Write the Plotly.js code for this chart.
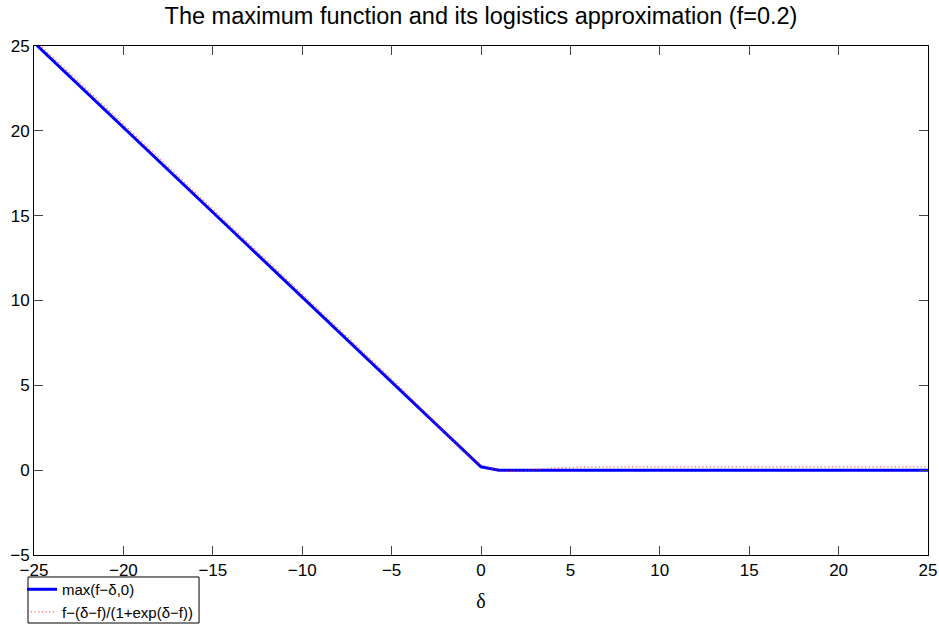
<!DOCTYPE html>
<html>
<head>
<meta charset="utf-8">
<script src="https://cdn.plot.ly/plotly-3.0.1.min.js"></script>
<style>
  html, body { margin: 0; padding: 0; background: #ffffff; }
  #chart { width: 939px; height: 624px; }
</style>
</head>
<body>
<div id="chart"></div>
<script>
// delta sample points (x axis)
const delta = [-25,-24,-23,-22,-21,-20,-19,-18,-17,-16,-15,-14,-13,-12,-11,-10,-9,-8,-7,-6,-5,-4,-3,-2,-1,
               0,1,2,3,4,5,6,7,8,9,10,11,12,13,14,15,16,17,18,19,20,21,22,23,24,25];

// max(f - delta, 0), f = 0.2
const maxValues = [25.2,24.2,23.2,22.2,21.2,20.2,19.2,18.2,17.2,16.2,15.2,14.2,13.2,12.2,11.2,10.2,9.2,8.2,7.2,6.2,5.2,4.2,3.2,2.2,1.2,
                   0.2,0,0,0,0,0,0,0,0,0,0,0,0,0,0,0,0,0,0,0,0,0,0,0,0,0];

// logistic approximation f - (delta - f)/(1 + exp(delta - f))
const logisticValues = [25.4,24.4,23.4,22.4,21.4,20.4,19.4,18.4,17.4,16.4,15.4,14.4,13.4,12.4,11.4,10.4,9.399,8.398,7.395,6.387,5.372,4.338,3.275,2.181,1.122,
                        0.31,-0.048,-0.055,0.040,0.117,0.161,0.183,0.192,0.197,0.199,0.1995,0.1998,0.1999,0.2,0.2,0.2,0.2,0.2,0.2,0.2,0.2,0.2,0.2,0.2,0.2,0.2];

const xTicks = [-25,-20,-15,-10,-5,0,5,10,15,20,25];
const yTicks = [-5,0,5,10,15,20,25];

const seriesNames = ['max(f\u2212\u03b4,0)', 'f\u2212(\u03b4\u2212f)/(1+exp(\u03b4\u2212f))'];

const traces = [
  {
    x: delta, y: maxValues, type: 'scatter', mode: 'lines',
    name: seriesNames[0],
    line: { color: 'rgb(0,0,255)', width: 3 }
  },
  {
    x: delta, y: logisticValues, type: 'scatter', mode: 'lines',
    name: seriesNames[1],
    line: { color: 'rgba(255,40,40,0.6)', width: 1.5, dash: '1.2px,2.5px' }
  }
];

const axisCommon = {
  showgrid: false, zeroline: false,
  showline: true, linecolor: '#000000', linewidth: 1, mirror: 'ticks',
  ticks: 'inside', ticklen: 9, tickwidth: 1, tickcolor: '#444444',
  tickfont: { family: 'Liberation Sans, Arial, sans-serif', size: 17, color: '#000000' },
  automargin: false
};

// legend box frame (paper coordinates)
const legendBox = { x0: -0.0067, x1: 0.1846, y0: -0.1336, y1: -0.0432 };

const layout = {
  width: 939, height: 624,
  paper_bgcolor: '#ffffff', plot_bgcolor: '#ffffff',
  margin: { l: 34, r: 11, t: 46, b: 69, autoexpand: false },
  showlegend: true,
  title: {
    text: 'The maximum function and its logistics approximation (f=0.2)',
    font: { family: 'Liberation Sans, Arial, sans-serif', size: 23.5, color: '#000000' },
    x: 0.5, xref: 'paper', xanchor: 'center',
    y: 0.975, yref: 'container', yanchor: 'middle'
  },
  xaxis: Object.assign({}, axisCommon, {
    range: [-25, 25], tickmode: 'array', tickvals: xTicks,
    title: { text: '\u03b4', font: { family: 'Liberation Serif, Times New Roman, serif', size: 20, color: '#000000' }, standoff: 14 }
  }),
  yaxis: Object.assign({}, axisCommon, {
    range: [-5, 25], tickmode: 'array', tickvals: yTicks
  }),
  shapes: [{
    type: 'rect', xref: 'paper', yref: 'paper', layer: 'above',
    x0: legendBox.x0, x1: legendBox.x1, y0: legendBox.y0, y1: legendBox.y1,
    line: { color: '#000000', width: 1 }, fillcolor: '#ffffff'
  }],
  legend: {
    x: -0.0134, y: -0.0354, xanchor: 'left', yanchor: 'top',
    xref: 'paper', yref: 'paper',
    bgcolor: 'rgba(0,0,0,0)', borderwidth: 0,
    font: { family: 'Liberation Sans, Arial, sans-serif', size: 15, color: '#000000' },
    tracegroupgap: 0
  }
};

Plotly.newPlot('chart', traces, layout, { displayModeBar: false, staticPlot: true });
</script>
</body>
</html>
